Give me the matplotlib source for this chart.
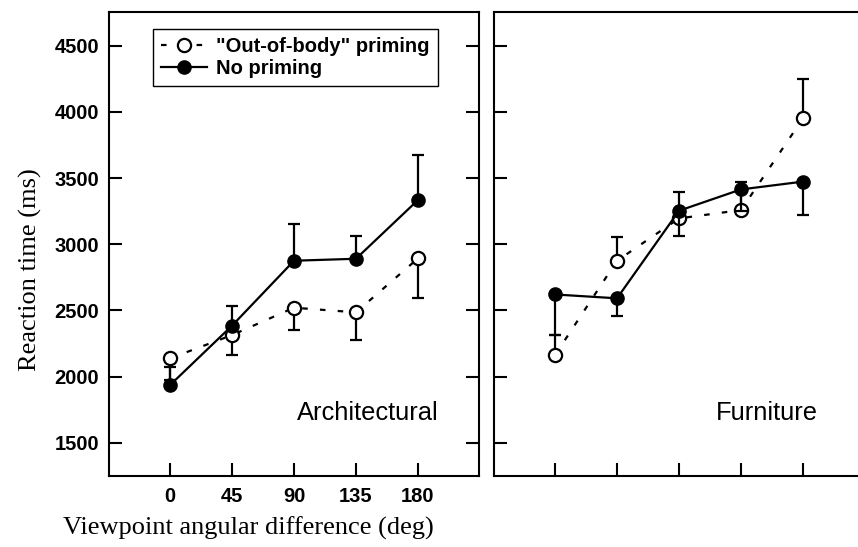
import matplotlib
matplotlib.use("Agg")
import matplotlib.pyplot as plt
from matplotlib.lines import Line2D

# ---- data ----
angles = [0, 45, 90, 135, 180]
angle_labels = ["0", "45", "90", "135", "180"]
yticks = [1500, 2000, 2500, 3000, 3500, 4000, 4500]

arch_oob = [2137, 2313, 2520, 2485, 2893]
arch_oob_err_low = [165, 150, 170, 210, 300]
arch_none = [1935, 2384, 2875, 2890, 3334]
arch_none_err_up = [140, 150, 275, 172, 340]

furn_oob = [2162, 2875, 3195, 3258, 3951]
furn_oob_err_up = [150, 177, 200, 215, 300]
furn_none = [2620, 2591, 3253, 3414, 3473]
furn_none_err_low = [310, 135, 190, 165, 250]

W, H = 858, 547
fig = plt.figure(figsize=(W / 100, H / 100), dpi=100)

def px_axes(x0, y_top, w, h):
    return fig.add_axes([x0 / W, (H - y_top - h) / H, w / W, h / H])

axL = px_axes(109, 12, 370, 464)
axR = px_axes(494, 12, 370, 464)

dash = (0, (2.5, 5.5))
ms = 9.5
lw = 1.6

def one_sided_err(ax, y, err, direction, z):
    ends = [v + direction * e for v, e in zip(y, err)]
    ax.vlines(angles, y, ends, colors='black', lw=1.6, zorder=z)
    ax.plot(angles, ends, linestyle='none', marker='_', ms=8.5, mew=1.6,
            color='black', zorder=z)

def draw(ax, oob, oob_err, oob_dir, none, none_err, none_dir):
    one_sided_err(ax, oob, oob_err, oob_dir, 2)
    ax.plot(angles, oob, linestyle=dash, color='black', lw=lw,
            marker='o', ms=ms, mfc='white', mec='black', mew=1.6, zorder=3)
    one_sided_err(ax, none, none_err, none_dir, 4)
    ax.plot(angles, none, linestyle='-', color='black', lw=lw,
            marker='o', ms=ms, mfc='black', mec='black', zorder=5)

draw(axL, arch_oob, arch_oob_err_low, -1, arch_none, arch_none_err_up, 1)
draw(axR, furn_oob, furn_oob_err_up, 1, furn_none, furn_none_err_low, -1)

for ax in (axL, axR):
    ax.set_xlim(-44.3, 224.3)
    ax.set_ylim(1248, 4755)
    ax.set_xticks(angles)
    ax.set_yticks(yticks)
    for s in ax.spines.values():
        s.set_linewidth(1.5)
    ax.tick_params(direction='in', length=9.5, width=1.5,
                   left=True, right=True, top=False, bottom=True)
axR.tick_params(right=False)

tickfont = dict(family='Liberation Sans', weight='bold', size=14.5)
axL.set_xticklabels(angle_labels, **tickfont)
axL.set_yticklabels([str(v) for v in yticks], **tickfont)
axL.tick_params(axis='x', pad=8)
axL.tick_params(axis='y', pad=7)
axR.set_xticklabels([])
axR.set_yticklabels([])

axL.text(0.89, 0.135, "Architectural", transform=axL.transAxes,
         ha='right', va='center', family='Liberation Sans', size=18.4)
axR.text(0.875, 0.135, "Furniture", transform=axR.transAxes,
         ha='right', va='center', family='Liberation Sans', size=18.4)

fig.text(30 / W, 1 - 270 / H, "Reaction time (ms)", rotation=90,
         ha='center', va='center', family='Liberation Serif', size=19)
fig.text(248 / W, 1 - 528 / H, "Viewpoint angular difference (deg)",
         ha='center', va='center', family='Liberation Serif', size=19)

h1 = Line2D([], [], linestyle=dash, color='black', lw=lw, marker='o', ms=ms,
            mfc='white', mec='black', mew=1.6)
h2 = Line2D([], [], linestyle='-', color='black', lw=lw, marker='o', ms=ms,
            mfc='black', mec='black')
leg = axL.legend([h1, h2], ['"Out-of-body" priming', 'No priming'],
                 loc='upper left', bbox_to_anchor=(0.119, 0.963),
                 prop=dict(family='Liberation Sans', weight='bold', size=14.5),
                 frameon=True, fancybox=False, edgecolor='black',
                 framealpha=1, borderpad=0.4, labelspacing=0.12,
                 handlelength=2.3, handletextpad=0.45, borderaxespad=0)
leg.get_frame().set_linewidth(1.0)

fig.savefig("out.png", dpi=100)
